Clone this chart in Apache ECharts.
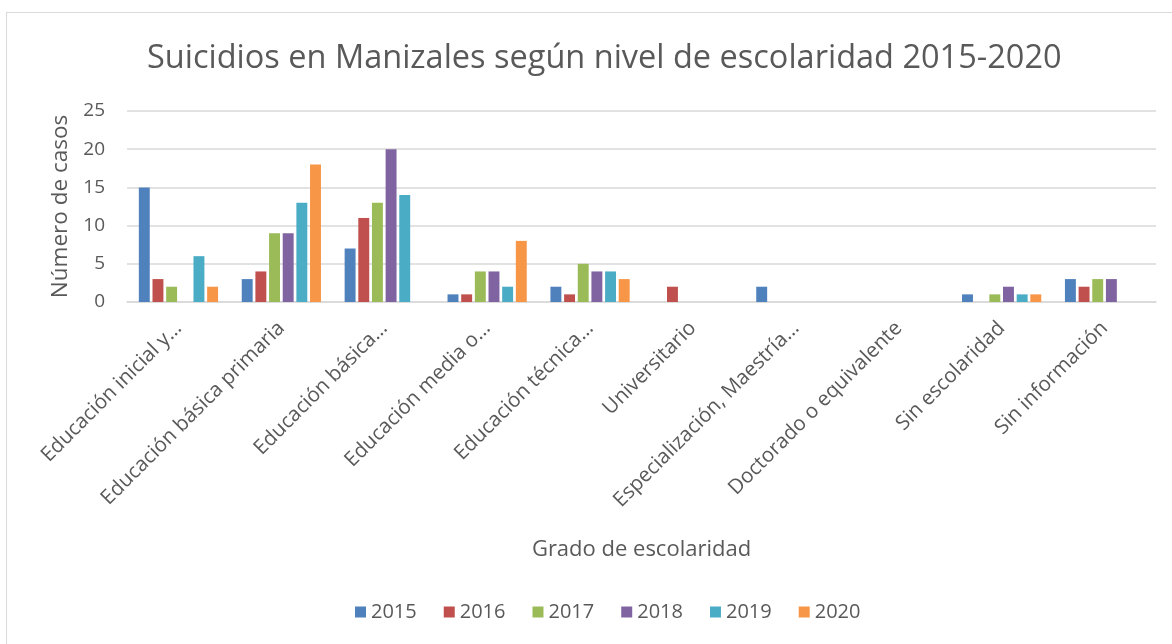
<!DOCTYPE html>
<html>
<head>
<meta charset="utf-8">
<script src="https://cdn.jsdelivr.net/npm/echarts@6/dist/echarts.min.js"></script>
<style>
  html, body { margin: 0; padding: 0; background: #fff; overflow: hidden; }
  #frame { position: absolute; left: 6px; top: 12px; width: 1300px; height: 800px; border: 1px solid #d9d9d9; }
  #main { position: absolute; left: 0; top: 0; width: 1172px; height: 644px; }
</style>
</head>
<body>
<div id="frame"></div>
<div id="main"></div>
<script>
// categories as printed on the axis (truncated like the original)
const categories = [
  'Educación inicial y…',
  'Educación básica primaria',
  'Educación básica…',
  'Educación media o…',
  'Educación técnica…',
  'Universitario',
  'Especialización, Maestría…',
  'Doctorado o equivalente',
  'Sin escolaridad',
  'Sin información'
]
const years = ['2015', '2016', '2017', '2018', '2019', '2020']
const y2015 = [15, 3, 7, 1, 2, 0, 2, 0, 1, 3]
const y2016 = [3, 4, 11, 1, 1, 2, 0, 0, 0, 2]
const y2017 = [2, 9, 13, 4, 5, 0, 0, 0, 1, 3]
const y2018 = [0, 9, 20, 4, 4, 0, 0, 0, 2, 3]
const y2019 = [6, 13, 14, 2, 4, 0, 0, 0, 1, 0]
const y2020 = [2, 18, 0, 8, 3, 0, 0, 0, 1, 0]
const yTicks = [0, 5, 10, 15, 20, 25]

const colors = ['#4F81BD', '#C0504D', '#9BBB59', '#8064A2', '#4BACC6', '#F79646']
const values = [y2015, y2016, y2017, y2018, y2019, y2020]
const font = '"Open Sans", sans-serif'

const chart = echarts.init(document.getElementById('main'))
chart.setOption({
  color: colors,
  textStyle: { fontFamily: font, color: '#595959' },
  title: {
    text: 'Suicidios en Manizales según nivel de escolaridad 2015-2020',
    left: 142,
    top: 37,
    textStyle: { fontFamily: font, fontSize: 32.5, fontWeight: 'normal', color: '#595959' }
  },
  legend: {
    bottom: 17,
    left: 350,
    itemWidth: 11,
    itemHeight: 11,
    itemGap: 27,
    icon: 'rect',
    textStyle: { fontFamily: font, fontSize: 20, color: '#595959' },
    data: years
  },
  grid: { left: 127, right: 16, top: 111, bottom: 342 },
  xAxis: {
    type: 'category',
    data: categories,
    name: 'Grado de escolaridad',
    nameLocation: 'middle',
    nameGap: 237,
    nameTextStyle: { fontFamily: font, fontSize: 22, color: '#595959' },
    axisLine: { lineStyle: { color: '#d9d9d9', width: 1.5 } },
    axisTick: { show: false },
    axisLabel: { rotate: 45, interval: 0, fontSize: 20.5, color: '#595959', margin: 23 }
  },
  yAxis: {
    type: 'value',
    min: yTicks[0],
    max: yTicks[yTicks.length - 1],
    interval: 5,
    name: 'Número de casos',
    nameLocation: 'middle',
    nameGap: 54,
    nameTextStyle: { fontFamily: font, fontSize: 22.5, color: '#595959' },
    axisLine: { show: false },
    axisTick: { show: false },
    axisLabel: { fontSize: 19, color: '#595959', margin: 22 },
    splitLine: { lineStyle: { color: '#d9d9d9', width: 1.5 } }
  },
  series: years.map((y, i) => ({
    name: y,
    type: 'bar',
    data: values[i],
    barGap: '25%',
    barCategoryGap: '23%'
  }))
})
</script>
</body>
</html>
